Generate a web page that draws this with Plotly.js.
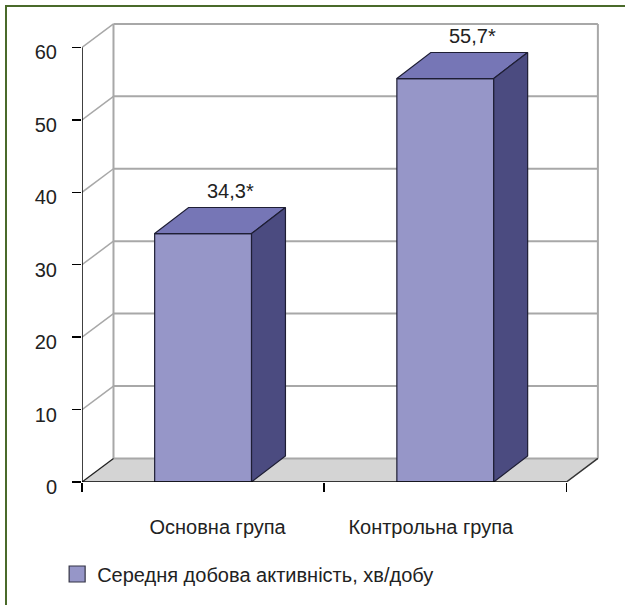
<!DOCTYPE html>
<html>
<head>
<meta charset="utf-8">
<script src="https://cdn.plot.ly/plotly-3.0.1.min.js"></script>
<style>
  html, body { margin: 0; padding: 0; background: #ffffff; }
  #wrap { position: relative; width: 625px; height: 605px; overflow: hidden; }
  #chart { position: absolute; left: 0; top: 0; width: 625px; height: 605px; }
  #frame { position: absolute; left: 5px; top: 5px; width: 700px; height: 700px;
           border-left: 2.5px solid #4a6a2a; border-top: 2.5px solid #4a6a2a; pointer-events: none; }
</style>
</head>
<body>
<div id="wrap">
  <div id="chart"></div>
  <div id="frame"></div>
</div>
<script>
// ---- data ----
const categories = ['Основна група', 'Контрольна група'];
const values = [34.3, 55.7];
const valueLabels = ['34,3*', '55,7*'];
const seriesName = 'Середня добова активність, хв/добу';
const yTickVals = [0, 10, 20, 30, 40, 50, 60];

// ---- style / geometry ----
const FONT = '"Liberation Sans", Arial, sans-serif';
const FS = 20;
const TXT = '#222222';
const barWidth = 0.40;
const barDepth = { dx: 0.14, dy: 3.6 };    // 3-D offset of bars (axis units)
const wallDepth = { dx: 0.13, dy: 3.25 };  // 3-D offset of walls/floor
const labelPull = 0.12;                    // category labels pulled toward the middle
const cFront = '#9696c8', cTop = '#7676b6', cSide = '#4b4b80', cEdge = '#1e1e34';
const gridCol = '#a8a8a8';

const xs = categories.map((c, i) => i);
const xMin = -0.5, xMax = categories.length - 0.5;
const xMid = (xMin + xMax) / 2;
const yMax = yTickVals[yTickVals.length - 1];

const traces = [];
traces.push({
  type: 'bar', x: xs, y: values, width: barWidth, name: seriesName,
  marker: { color: cFront, line: { color: cEdge, width: 1.2 } },
  hoverinfo: 'skip', showlegend: false
});
xs.forEach((x, i) => {
  const v = values[i], l = x - barWidth / 2, r = x + barWidth / 2;
  const { dx, dy } = barDepth;
  traces.push({
    type: 'scatter', mode: 'lines', fill: 'toself', fillcolor: cTop,
    x: [l, r, r + dx, l + dx, l], y: [v, v, v + dy, v + dy, v],
    line: { color: cEdge, width: 1.2 }, showlegend: false, hoverinfo: 'skip'
  });
  traces.push({
    type: 'scatter', mode: 'lines', fill: 'toself', fillcolor: cSide,
    x: [r, r + dx, r + dx, r, r], y: [0, dy, v + dy, v, 0],
    line: { color: cEdge, width: 1.2 }, showlegend: false, hoverinfo: 'skip'
  });
});
// legend key for the series (larger square, as in the original)
traces.push({
  type: 'scatter', mode: 'markers', x: [null], y: [null], name: seriesName,
  marker: { symbol: 'square', size: 17, color: cFront, line: { color: '#333344', width: 1.2 } },
  showlegend: true, hoverinfo: 'skip'
});

// walls and floor (decoration)
const shapes = [];
const W = wallDepth;
shapes.push({
  type: 'path', xref: 'x', yref: 'y', layer: 'below',
  path: `M${xMin},0 L${xMax},0 L${xMax + W.dx},${W.dy} L${xMin + W.dx},${W.dy} Z`,
  fillcolor: '#d4d4d4', line: { width: 0 }
});
yTickVals.forEach(v => {
  shapes.push({ type: 'line', xref: 'x', yref: 'y', layer: 'below',
    x0: xMin + W.dx, x1: xMax + W.dx, y0: v + W.dy, y1: v + W.dy,
    line: { color: gridCol, width: 2 } });
  if (v > 0) shapes.push({ type: 'line', xref: 'x', yref: 'y', layer: 'below',
    x0: xMin, x1: xMin + W.dx, y0: v, y1: v + W.dy,
    line: { color: gridCol, width: 1.5 } });
});
[xMin + W.dx, xMax + W.dx].forEach(xx => shapes.push({
  type: 'line', xref: 'x', yref: 'y', layer: 'below',
  x0: xx, x1: xx, y0: W.dy, y1: yMax + W.dy, line: { color: gridCol, width: 2 } }));
shapes.push({ type: 'line', xref: 'x', yref: 'y', layer: 'below',
  x0: xMin, x1: xMin + W.dx, y0: 0, y1: W.dy, line: { color: '#222', width: 1.3 } });
shapes.push({ type: 'line', xref: 'x', yref: 'y', layer: 'below',
  x0: xMax, x1: xMax + W.dx, y0: 0, y1: W.dy, line: { color: '#333', width: 1.5 } });
shapes.push({ type: 'line', xref: 'x', yref: 'y', layer: 'above',
  x0: xMin, x1: xMax, y0: 0, y1: 0, line: { color: '#000', width: 1.5 } });
shapes.push({ type: 'line', xref: 'x', yref: 'y', layer: 'above',
  x0: xMin, x1: xMin, y0: 0, y1: yMax, line: { color: '#000', width: 1.5 } });

const annotations = xs.map((x, i) => ({
  x: x + barDepth.dx * 0.8, y: values[i] + barDepth.dy, xref: 'x', yref: 'y',
  text: valueLabels[i], showarrow: false, yanchor: 'bottom', yshift: 3,
  font: { family: FONT, size: FS, color: TXT }
}));

const pxPerX = 242.2, pxPerY = 7.243;
const plotW = 518, plotH = 460;
const layout = {
  width: 625, height: 605,
  margin: { l: 82, r: 625 - 82 - plotW, t: 22, b: 605 - 22 - plotH, pad: 0 },
  paper_bgcolor: '#ffffff', plot_bgcolor: '#ffffff',
  font: { family: FONT, size: FS, color: TXT },
  showlegend: true,
  xaxis: {
    range: [xMin, xMin + plotW / pxPerX],
    tickvals: xs.map(x => x + (xMid - x) * labelPull), ticktext: categories,
    ticks: '', showgrid: false, zeroline: false, showline: false,
    ticklabelstandoff: 31, tickfont: { family: FONT, size: FS, color: TXT },
    minor: { tickvals: xs.map(x => x - 0.5).concat([xMax]), ticks: 'outside',
             ticklen: 9, tickwidth: 1.5, tickcolor: '#000', showgrid: false },
    fixedrange: true
  },
  yaxis: {
    range: [0, plotH / pxPerY], tickvals: yTickVals, ticks: 'outside', ticklen: 9,
    tickwidth: 1.5, tickcolor: '#000', showgrid: false, zeroline: false, showline: false,
    ticklabelstandoff: 11, ticklabelshift: 5, tickfont: { family: FONT, size: FS, color: TXT },
    fixedrange: true
  },
  legend: {
    orientation: 'h', x: -0.048, y: -0.2, xanchor: 'left', yanchor: 'middle',
    font: { family: FONT, size: FS, color: TXT }, bgcolor: 'rgba(0,0,0,0)'
  },
  bargap: 0.6,
  shapes: shapes,
  annotations: annotations
};

Plotly.newPlot('chart', traces, layout, { displayModeBar: false, staticPlot: true });
</script>
</body>
</html>
